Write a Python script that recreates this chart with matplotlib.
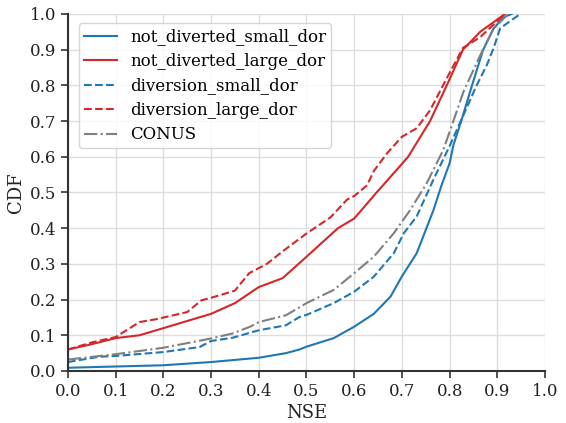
import matplotlib
matplotlib.use("Agg")
import matplotlib.pyplot as plt

# not_diverted_small_dor
nds_x = [0.0, 0.2, 0.3, 0.4, 0.457, 0.485, 0.5, 0.557, 0.6, 0.641, 0.676, 0.7, 0.731, 0.766, 0.783, 0.8, 0.808, 0.825, 0.846, 0.870, 0.892, 0.913, 0.93]
nds_y = [0.009, 0.016, 0.025, 0.037, 0.05, 0.06, 0.068, 0.092, 0.124, 0.16, 0.208, 0.265, 0.33, 0.45, 0.52, 0.582, 0.633, 0.703, 0.796, 0.899, 0.959, 0.991, 1.0]

# not_diverted_large_dor
ndl_x = [0.0, 0.05, 0.1, 0.15, 0.2, 0.25, 0.3, 0.35, 0.4, 0.45, 0.5, 0.566, 0.6, 0.647, 0.7, 0.713, 0.759, 0.794, 0.828, 0.864, 0.916]
ndl_y = [0.06, 0.075, 0.092, 0.10, 0.12, 0.14, 0.16, 0.19, 0.235, 0.26, 0.32, 0.40, 0.427, 0.5, 0.58, 0.6, 0.7, 0.8, 0.9, 0.95, 1.0]

# diversion_small_dor
ds_x = [0.0, 0.066, 0.1, 0.2, 0.276, 0.3, 0.345, 0.4, 0.457, 0.485, 0.5, 0.557, 0.6, 0.641, 0.683, 0.704, 0.731, 0.766, 0.8, 0.829, 0.857, 0.878, 0.892, 0.906, 0.948]
ds_y = [0.025, 0.04, 0.042, 0.053, 0.067, 0.084, 0.093, 0.114, 0.128, 0.151, 0.157, 0.19, 0.222, 0.264, 0.33, 0.386, 0.433, 0.536, 0.63, 0.717, 0.801, 0.857, 0.904, 0.96, 1.0]

# diversion_large_dor
dl_x = [0.0, 0.05, 0.1, 0.15, 0.185, 0.25, 0.28, 0.3, 0.35, 0.38, 0.417, 0.45, 0.5, 0.55, 0.585, 0.6, 0.627, 0.641, 0.669, 0.7, 0.731, 0.759, 0.794, 0.828, 0.864, 0.892, 0.916]
dl_y = [0.06, 0.08, 0.095, 0.137, 0.145, 0.165, 0.198, 0.205, 0.225, 0.274, 0.30, 0.335, 0.385, 0.43, 0.48, 0.49, 0.52, 0.56, 0.61, 0.656, 0.68, 0.73, 0.82, 0.905, 0.935, 0.97, 1.0]

# CONUS
c_x = [0.0, 0.1, 0.2, 0.3, 0.345, 0.382, 0.4, 0.457, 0.5, 0.557, 0.6, 0.641, 0.683, 0.717, 0.752, 0.787, 0.829, 0.864, 0.892, 0.92]
c_y = [0.032, 0.047, 0.065, 0.091, 0.105, 0.124, 0.137, 0.156, 0.19, 0.227, 0.274, 0.32, 0.386, 0.45, 0.526, 0.62, 0.782, 0.884, 0.959, 0.996]

ticks = [0.0, 0.1, 0.2, 0.3, 0.4, 0.5, 0.6, 0.7, 0.8, 0.9, 1.0]

plt.rcParams['font.family'] = ['DejaVu Serif']
fig = plt.figure(figsize=(5.66, 4.23), dpi=100)
ax = fig.add_axes([0.120, 0.123, 0.843, 0.844])

blue = '#1f77b4'
red = '#d62728'
ax.plot(nds_x, nds_y, color=blue, lw=1.5, ls='-', label='not_diverted_small_dor')
ax.plot(ndl_x, ndl_y, color=red, lw=1.5, ls='-', label='not_diverted_large_dor')
ax.plot(ds_x, ds_y, color=blue, lw=1.5, ls='--', label='diversion_small_dor')
ax.plot(dl_x, dl_y, color=red, lw=1.5, ls='--', label='diversion_large_dor')
ax.plot(c_x, c_y, color='gray', lw=1.5, ls='-.', label='CONUS')

ax.set_xlim(0, 1)
ax.set_ylim(0, 1)
ax.set_xticks(ticks)
ax.set_yticks(ticks)
ax.set_xticklabels([f'{t:.1f}' for t in ticks])
ax.set_yticklabels([f'{t:.1f}' for t in ticks])
ax.grid(True, color='#dddddd', lw=1.0)
ax.set_axisbelow(True)
for s in ['top', 'right']:
    ax.spines[s].set_visible(False)
for s in ['left', 'bottom']:
    ax.spines[s].set_color('#333333')
    ax.spines[s].set_linewidth(1.5)
ax.tick_params(direction='out', length=5, width=1.2, color='#333333', labelsize=12, labelcolor='#222222')
ax.set_xlabel('NSE', fontsize=13, color='#222222', labelpad=3)
ax.set_ylabel('CDF', fontsize=13, color='#222222', labelpad=3)
leg = ax.legend(loc='upper left', fontsize=12, frameon=True, fancybox=True, edgecolor='#cccccc',
                framealpha=0.8, bbox_to_anchor=(0.005, 0.997), borderpad=0.3, labelspacing=0.45)
fig.savefig('out.png', dpi=100)
